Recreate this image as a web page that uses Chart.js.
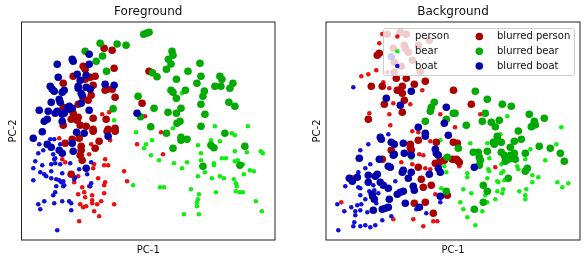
<!DOCTYPE html>
<html>
<head>
<meta charset="utf-8">
<title>PCA scatter</title>
<script src="https://cdn.jsdelivr.net/npm/chart.js@4/dist/chart.umd.min.js"></script>
<style>
  html, body { margin: 0; padding: 0; background: #fff; }
  #wrap { position: relative; width: 586px; height: 261px; overflow: hidden; }
  canvas { position: absolute; top: 0; }
  #fg { left: 0; }
  #bg { left: 293px; }
</style>
</head>
<body>
<div id="wrap">
  <canvas id="fg" width="293" height="261"></canvas>
  <canvas id="bg" width="293" height="261"></canvas>
</div>
<script>
/* Datos leídos a ojo del gráfico: [PC-1, PC-2] */

const fgPerson = [[37.8,101.7],[40.8,80.7],[43.8,77.7],[67.8,85.7],[69.8,95.7],[88.8,99.7],[83.8,80.7],[72.8,75.7],[71.8,71.7],[82.8,74.7],[86.8,74.7],[102.8,68.7],[105.8,58.7],[115.8,95.7],[56.8,63.7],[52.8,57.7],[76.8,61.7],[83.8,57.7],[82.8,54.7],[67.8,53.7],[60.8,52.7],[62.8,47.7],[56.8,45.7],[82.8,46.7],[70.8,44.7],[63.8,42.7],[70.8,39.7],[70.8,36.7],[79.8,38.7],[75.8,35.7],[92.8,35.7],[58.8,35.7],[61.8,32.7],[64.8,33.7],[72.8,28.7],[77.8,23.7],[57.8,18.7],[139.8,107.7],[141.8,85.7],[80.8,125.7],[87.8,127.7],[123.8,123.7]];

const fgBear = [[130.8,99.7],[129.8,84.7],[137.8,79.7],[152.8,76.7],[160.8,71.7],[165.8,77.7],[176.8,94.7],[179.8,86.7],[179.8,79.7],[192.8,76.7],[192.8,74.7],[183.8,67.7],[176.8,63.7],[190.8,61.7],[198.8,98.7],[189.8,99.7],[210.8,106.7],[213.8,104.7],[213.8,88.7],[225.8,87.7],[200.8,81.7],[204.8,81.7],[213.8,78.7],[216.8,79.7],[221.8,75.7],[228.8,69.7],[232.8,68.7],[222.8,65.7],[198.8,63.7],[202.8,61.7],[212.8,60.7],[214.8,56.7],[215.8,53.7],[214.8,48.7],[218.8,47.7],[221.8,47.7],[194.8,47.7],[169.8,50.7],[138.8,52.7],[142.8,52.7],[177.8,45.7],[176.8,40.7],[175.8,37.7],[175.8,33.7],[162.8,25.7],[177.8,25.7],[234.8,38.7],[240.8,28.7],[239.8,88.7],[241.8,86.7],[114.8,107.7],[124.8,95.7],[122.8,91.7],[111.8,54.7],[160.8,146.7],[151.8,111.7],[193.8,113.7],[226.8,113.7],[92.8,119.7]];

const fgBoat = [[32.8,100.7],[17.8,95.7],[28.8,100.7],[38.8,95.7],[21.8,89.7],[16.8,86.7],[31.8,85.7],[33.8,81.7],[32.8,80.7],[13.8,78.7],[20.8,74.7],[29.8,75.7],[33.8,76.7],[38.8,75.7],[48.8,76.7],[11.8,71.7],[29.8,68.7],[18.8,67.7],[22.8,65.7],[24.8,63.7],[40.8,66.7],[29.8,61.7],[34.8,60.7],[37.8,59.7],[41.8,58.7],[11.8,59.7],[57.8,70.7],[69.8,77.7],[65.8,65.7],[53.8,62.7],[52.8,60.7],[69.8,56.7],[68.8,53.7],[41.8,53.7],[34.8,53.7],[33.8,47.7],[31.8,44.7],[22.8,38.7],[16.8,35.7],[18.8,30.7],[32.8,36.7],[40.8,38.7],[47.8,38.7],[49.8,36.7],[49.8,29.7],[35.8,9.7],[42.8,54.7],[39.8,57.7]];

const fgBlurPerson = [[82.8,191.7],[90.8,189.7],[61.8,173.7],[63.8,170.7],[51.8,163.7],[73.8,163.7],[92.8,171.7],[41.8,156.7],[68.8,162.7],[71.8,154.7],[85.8,150.7],[90.8,150.7],[69.8,144.7],[66.8,139.7],[93.8,142.7],[56.8,135.7],[61.8,141.7],[83.8,149.7],[120.8,136.7],[41.8,132.7],[51.8,126.7],[56.8,122.7],[49.8,120.7],[55.8,119.7],[71.8,121.7],[84.8,120.7],[41.8,114.7],[58.8,114.7],[64.8,113.7],[71.8,110.7],[86.8,110.7],[93.8,111.7],[63.8,160.7],[127.8,168.7],[43.8,96.7],[50.8,100.7],[57.8,101.7],[71.8,108.7],[85.8,108.7],[93.8,108.7],[77.8,98.7],[73.8,91.7],[59.8,93.7],[59.8,89.7],[58.8,84.7],[60.8,79.7],[49.8,65.7]];

const fgBlurBear = [[122.5,205.7],[125.2,206.7],[78.8,196.7],[95.8,196],[104.8,194.7],[63.8,188.7],[81.2,184],[74.8,178.7],[85.2,168.7],[116.8,143.7],[91.8,131.3],[119.2,123.3],[127.8,207.7],[150.8,188.7],[151.8,184.7],[147.2,180.7],[149.8,176],[145.2,170.7],[178.8,176.7],[166.8,168.7],[179.8,163.7],[131.2,167.3],[135.8,163.3],[155.2,160.7],[175.8,156.7],[198.8,163.7],[200.8,160.7],[211.8,156.7],[208.8,151.7],[199.8,153.7],[193.8,153.7],[164.2,149.7],[149.8,149.7],[151.8,147.7],[183.2,149],[181.8,143.7],[155.2,141.7],[207.8,137.7],[213.8,133.7],[179.8,135.7],[132.8,131.7],[159.8,131.7],[146.8,127.7],[155.2,126.7],[183.8,125.7],[158.8,118.7],[155.8,116.7],[179.8,113.7],[129.5,113.3],[145.2,106.7],[159.8,102.7],[159.8,99.7],[165.8,100.7],[151.8,91.7],[203.8,106.7],[189.8,94.7],[192.8,92.3],[223.8,93.7],[181.8,73.7],[218.8,74.7]];

const fgBlurBoat = [[67.8,185.7],[35.8,175.7],[50.8,180.7],[51.8,178.7],[67.8,175.7],[36.8,162.7],[55.8,165.7],[64.8,164.7],[58.8,159.7],[56.8,153.7],[56.8,151.7],[64.8,152.7],[68.8,150.7],[83.8,155.7],[92.8,154.7],[28.8,153.7],[30.8,150.7],[32.8,148.7],[42.8,149.7],[40.8,147.7],[59.8,146.7],[60.8,144.7],[37.8,140.7],[38.8,137.7],[29.8,137.7],[59.8,136.7],[17.8,129.7],[26.8,128.7],[47.8,133.7],[47.8,130.7],[40.8,125.7],[42.8,126.7],[33.8,126.7],[67.8,129.7],[115.8,126.7],[25.8,120.7],[22.8,118.7],[40.8,118.7],[45.8,131.7],[50.8,131.7],[35.8,128.7],[11.8,101.7],[20.8,108.3],[55.2,107.7],[62.8,106.7],[25.8,95.7],[29.8,92.7],[50.8,96.7],[37.8,89.7],[40.8,86.7],[51.8,88.7],[86.8,103.7],[64.8,71.7]];

const bgPerson = [[56.3,206],[53.3,196.7],[35.3,163.7],[42.3,165.7],[50.3,169.7],[57.3,157.7],[63.3,151.7],[96.3,149.7],[67.3,136.7],[84.3,135.7],[43.3,126.7],[63.3,125.7],[64.3,114.7],[114.3,125.7],[61.3,167.7],[154.3,125.7],[129,112.7],[86.3,108.7],[92.3,107.7],[104.3,98.7],[93.3,85.7],[97.3,84.7],[75.3,77.7],[86.3,75.7],[99.3,71.7],[104.3,70.7],[26.3,62.7],[15.3,37.7],[109.3,45.7],[67.3,20.7],[87.3,20.7],[97.3,13.7],[107.3,18.7],[111.3,18.7],[133.3,73.7],[169.3,72.7]];

const bgBear = [[181.3,123.7],[235.3,112.7],[114.3,99.7],[85.3,81.7],[118.3,73.7],[120.3,67.7],[115.3,51.7],[174.3,105.7],[144.3,96.7],[161.3,96.7],[204.3,90.7],[230.3,95.7],[219.3,79.7],[163.3,81.7],[199.3,80.7],[175.3,75.7],[191.3,73.7],[192.3,70.7],[162.3,70.7],[163.3,68.7],[177.3,68.7],[175.3,66.7],[141.3,66.7],[141.3,62.7],[161.3,61.7],[206.3,64.7],[212.3,62.7],[206.3,57.7],[171.3,58.7],[172.3,57.7],[178.3,59.7],[231.3,57.7],[242.3,56.7],[236.3,52.7],[137.3,50.7],[145.3,46.7],[171.3,48.7],[177.3,50.7],[176.3,46.7],[193.3,48.7],[200.3,50.7],[199.3,44.7],[199.3,40.7],[169.3,40.7],[159.3,44.7],[134.3,37.7],[161.3,37.7],[137.3,30.7],[156.3,28.7],[141.3,22.7],[149.3,14.7]];

const bgBoat = [[27.3,152.7],[62.3,105.7],[42.3,95.7],[34.3,89.7],[44.3,75.7],[39.3,71.7],[32.3,67.7],[19.3,53.7],[32.3,52.7],[34.3,51.7],[69.3,58.7],[47.3,54.7],[34.3,44.7],[52.3,46.7],[43.3,48.7],[39.3,40.7],[35.3,35.7],[31.3,34.7],[25.3,32.7],[11.3,35.7],[18.3,28.7],[29.3,28.7],[34.3,29.7],[29.3,24.7],[41.3,27.7],[56.3,19.7],[65.3,23.7],[28.3,17.7],[27.3,13.7],[34.3,13.7],[39.3,14.7],[44.3,12.7],[49.3,14.7],[12.3,9.7],[90.3,30.7],[100.3,26.7],[114.3,37.7],[45.3,42.7],[50.3,36.7],[48.3,49.7]];

const bgBlurPerson = [[61.3,205.7],[74.3,207.7],[80.3,205.7],[78.3,194.7],[92.3,194.7],[103.3,199.7],[67.3,191.7],[79.3,191.7],[82.3,187.7],[86.3,179.7],[68.3,177.7],[75.3,173.7],[94.3,168.7],[68.3,167.7],[51.3,184.7],[53.3,186.7],[70.3,161.7],[80.3,161.7],[88.3,155.7],[99.3,158.7],[45.3,153.7],[56.3,153.7],[71.3,149.7],[76.3,153.7],[76.3,146.7],[78.3,139.7],[58.3,135.7],[76.3,127.7],[42.3,120.7],[127.5,149.7],[145.3,135.7],[92.3,99.7],[65.3,89.7],[84.3,95.7],[84.3,92.7],[85.3,90],[110.3,97.7],[127.3,97.7],[56.3,80.7],[92.3,72.7],[95.3,60.7],[97.3,52.7],[105.3,54.7],[88.3,36.7],[99.3,37.7],[107.3,26.7],[109.3,76.7],[113.3,77.7],[118.3,79.7],[126.3,80.7],[121.3,44.7],[131.3,96.7],[131.3,79.7],[133.3,77.7],[130.3,80.7]];

const bgBlurBear = [[108.3,137.7],[105.3,132.7],[104.3,128.7],[99.3,118.7],[120.3,120.7],[127.3,126.7],[149.3,148.7],[161.3,140.7],[176.3,135.7],[185.3,133.7],[159.3,126.7],[156.3,118.7],[165.3,117.7],[173.3,119.7],[169.3,113.3],[140.3,114.7],[203.3,125.7],[208.3,118.7],[207.3,114.7],[205.3,113.3],[218.3,121.7],[209.3,115.3],[192.3,109],[129,126.7],[121.3,82.7],[120.3,48.7],[171.3,103.7],[171.3,100.7],[167.3,97.7],[168.3,95.7],[175.3,97.7],[188.3,98.7],[195.3,100.7],[184.3,92.7],[132.3,91.7],[147.3,87.7],[152.3,87.7],[153.3,82.7],[154.3,79.7],[153.3,74.7],[161.3,88.7],[175.3,87.7],[178.3,84.7],[179.3,82.7],[184.3,84.7],[188.3,86.7],[186.3,81.7],[189.3,80.7],[179.3,78.7],[182.3,80.7],[199.3,86.7],[213.3,93.7],[224.3,91.7],[234.3,86.7],[238.3,78.7],[201.3,71.7],[199.3,68.7],[182.3,61.7],[157.3,54.7],[161.3,48.7],[157.3,37.7],[148.3,30.7]];

const bgBlurBoat = [[85.3,148.7],[60.3,141.7],[74.3,134.7],[120.3,132.7],[118.3,116.7],[92.3,112.7],[65.3,183.3],[54.3,102.7],[55.3,100.7],[65.3,97.7],[68.3,95.7],[77.3,96.7],[99.3,106.7],[99.3,103.7],[78.3,86.7],[68.3,85.7],[67.3,84.7],[85.3,84.7],[33.3,81.7],[53.3,80.7],[62.3,73.7],[64.3,72.7],[77.3,69.7],[76.3,67.7],[85.3,67.7],[42.3,64.7],[51.3,65.7],[49.3,63.7],[23.3,61.7],[26.3,58.7],[31.3,62.7],[42.3,57.7],[54.3,57.7],[57.3,54.7],[82.3,61.7],[62.3,51.7],[87.3,53.7],[88.3,49.7],[77.3,48.7],[74.3,47.7],[71.3,45.7],[46.3,45.7],[48.3,40.7],[63.3,40.7],[79.3,36.7],[47.3,29.7],[62.3,32.7],[59.3,31.7],[56.3,30.7],[93.3,32.7],[109.3,90.7],[112.3,84.7],[112.3,71.7],[114.3,67.7],[103.3,65.7],[114.3,43.7],[110.3,86.7],[122.3,104.7],[148.3,72.7]];

const seriesNames = ['person', 'bear', 'boat', 'blurred person', 'blurred bear', 'blurred boat'];
const seriesColors = ['#e81010', '#10ee10', '#1010dc', '#aa0000', '#00aa00', '#0000aa'];
const FONT = '"DejaVu Sans", sans-serif';

// Helper: arma los 6 datasets (pequeños primero, los "blurred" quedan encima)
function buildDatasets(groups) {
  return groups.map((pts, i) => ({
    label: seriesNames[i],
    data: pts,
    order: groups.length - i,
    backgroundColor: seriesColors[i],
    borderWidth: 0,
    pointRadius: i < 3 ? 2.3 : 3.8,
    pointHoverRadius: i < 3 ? 2.3 : 3.8
  }));
}

// Marco completo alrededor del área del gráfico
const framePlugin = {
  id: 'frame',
  afterDatasetsDraw(chart) {
    const a = chart.chartArea, c = chart.ctx;
    c.save();
    c.strokeStyle = '#222';
    c.lineWidth = 1;
    c.strokeRect(a.left, a.top, a.width, a.height);
    c.restore();
  }
};

// Leyenda de dos columnas, semitransparente, encima de los puntos
const legendPlugin = {
  id: 'boxLegend',
  afterDraw(chart, args, o) {
    if (!o.show) return;
    const c = chart.ctx;
    c.save();
    c.beginPath();
    c.roundRect(o.x + 0.5, o.y + 0.5, o.w, o.h, 2);
    c.fillStyle = 'rgba(255,255,255,0.8)';
    c.fill();
    c.strokeStyle = '#ccc';
    c.lineWidth = 1;
    c.stroke();
    c.font = '10px ' + FONT;
    c.textBaseline = 'middle';
    chart.data.datasets.forEach((ds, i) => {
      const col = i < 3 ? 0 : 1;
      const y = o.rowY[i % 3];
      c.beginPath();
      c.arc(o.markX[col], y, ds.pointRadius, 0, Math.PI * 2);
      c.fillStyle = ds.backgroundColor;
      c.fill();
      c.fillStyle = '#111';
      c.fillText(ds.label, o.textX[col], y);
    });
    c.restore();
  }
};

function makePanel(id, titleText, groups, layout) {
  return new Chart(document.getElementById(id), {
    type: 'scatter',
    data: { datasets: buildDatasets(groups) },
    plugins: [framePlugin, legendPlugin],
    options: {
      responsive: false,
      animation: false,
      events: [],
      layout: { padding: { left: 0, right: layout.right, top: 0, bottom: 0 } },
      plugins: {
        legend: { display: false },
        tooltip: { enabled: false },
        title: {
          display: true,
          fullSize: false,
          text: titleText,
          color: '#111',
          font: { family: FONT, size: 12, weight: 'normal' },
          padding: { top: 5, bottom: 2.6 }
        },
        boxLegend: layout.legend
      },
      scales: {
        x: {
          type: 'linear', min: 0, max: 254,
          grid: { display: false }, border: { display: false },
          ticks: { display: false },
          title: { display: true, text: 'PC-1', color: '#111', font: { family: FONT, size: 10 }, padding: { top: 0, bottom: 5 } },
          afterFit(s) { s.height = 21; }
        },
        y: {
          type: 'linear', min: 0, max: 218,
          grid: { display: false }, border: { display: false },
          ticks: { display: false },
          title: { display: true, text: 'PC-2', color: '#111', font: { family: FONT, size: 10 }, padding: { top: layout.labelPad, bottom: 0 } },
          afterFit(s) { s.width = layout.left; }
        }
      }
    }
  });
}

makePanel('fg', 'Foreground', [fgPerson, fgBear, fgBoat, fgBlurPerson, fgBlurBear, fgBlurBoat],
  { left: 21.5, right: 18, labelPad: 7, legend: { show: false } });

makePanel('bg', 'Background', [bgPerson, bgBear, bgBoat, bgBlurPerson, bgBlurBear, bgBlurBoat],
  { left: 33, right: 6, labelPad: 18,
    legend: { show: true, x: 90, y: 28, w: 191, h: 47, rowY: [36.5, 51.3, 66], markX: [104.3, 186.3], textX: [122, 204] } });
</script>
</body>
</html>
